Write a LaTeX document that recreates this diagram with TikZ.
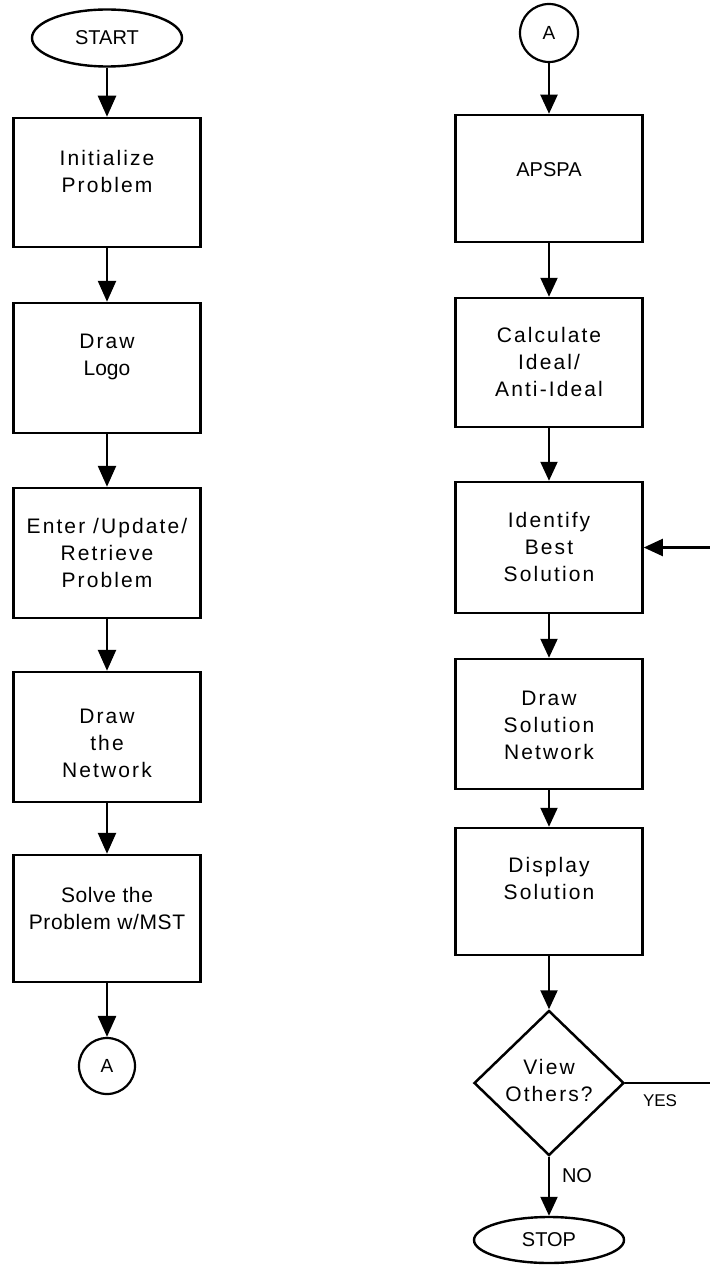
\documentclass[tikz,border=0pt]{standalone}
\usepackage{fontspec}
\setmainfont{Liberation Sans}
\newfontfamily\spacedfont[LetterSpace=10]{Liberation Sans}
\newfontfamily\tightfont[LetterSpace=3]{Liberation Sans}
\usetikzlibrary{arrows.meta,shapes.geometric}

\begin{document}
\begin{tikzpicture}[x=1pt,y=-1pt,
  box/.style={draw,line width=2.5pt,minimum width=187pt,minimum height=129pt,inner sep=0pt},
  terminal/.style={draw,ellipse,line width=2.4pt,minimum width=150pt,inner sep=0pt,
    font=\fontsize{20}{24}\selectfont},
  connector/.style={draw,circle,line width=2.2pt,minimum size=57pt,inner sep=0pt,
    font=\fontsize{19}{22}\selectfont},
  decision/.style={draw,diamond,line width=2.5pt,minimum width=150pt,minimum height=145pt,inner sep=0pt},
  txt/.style={align=center,inner sep=0pt,font=\spacedfont\fontsize{21}{27}\selectfont},
  lbl/.style={inner sep=0pt,font=\fontsize{20}{24}\selectfont},
  flow/.style={line width=2.6pt,-{Triangle[width=18pt,length=21pt]}},
  flowthin/.style={line width=2.1pt,-{Triangle[width=17pt,length=19pt]}}
]
\useasboundingbox (0,0) rectangle (709,1273);

% ---- left column ----
\node[terminal,minimum height=57pt] (start) at (107,38) {START};
\node[box] (b1) at (107,182.5) {};
\node[box,minimum height=130pt] (b2) at (107,368) {};
\node[box,minimum height=130pt] (b3) at (107,553) {};
\node[box,minimum height=130pt] (b4) at (107,737) {};
\node[box,minimum height=127pt] (b5) at (107,918.5) {};
\node[connector,minimum size=56pt] (ca) at (107,1066) {A};

\node[txt] (t1) at (107,171) {Initialize\\Problem};
\node[txt] (t2) at (107,357) {Draw\\{\fontspec{Liberation Sans}Logo}};
\node[txt] (t3) at (107,553) {Enter /Update/\\Retrieve\\Problem};
\node[txt] (t4) at (107,743) {Draw\\the\\Network};
\node[txt,font=\tightfont\fontsize{21}{27}\selectfont] (t5) at (107,908) {Solve the\\Problem w/MST};

\draw[flow] (start) -- (b1);
\draw[flow] (b1) -- (b2);
\draw[flow] (b2) -- (b3);
\draw[flow] (b3) -- (b4);
\draw[flow] (b4) -- (b5);
\draw[flow] (b5) -- (ca);

% ---- right column ----
\node[connector,minimum size=58pt] (cb) at (549,33) {A};
\node[box,minimum height=127pt] (r1) at (549,178.5) {};
\node[box] (r2) at (549,362.5) {};
\node[box,minimum height=131pt] (r3) at (549,547.5) {};
\node[box,minimum height=130pt] (r4) at (549,724) {};
\node[box,minimum height=127pt] (r5) at (549,891.5) {};
\node[decision] (dec) at (549,1083) {};
\node[terminal,minimum height=46pt] (stop) at (549,1240) {STOP};

\node[lbl] (tr1) at (549,170) {APSPA};
\node[txt] (tr2) at (549,362) {Calculate\\Ideal/\\Anti-Ideal};
\node[txt] (tr3) at (549,547) {Identify\\Best\\Solution};
\node[txt] (tr4) at (549,725) {Draw\\Solution\\Network};
\node[txt] (tr5) at (549,878) {Display\\Solution};
\node[txt] (td) at (549,1080) {View\\Others?};

\node[lbl,font=\fontsize{17}{20}\selectfont] (yes) at (660,1101) {YES};
\node[lbl] (no) at (577,1176) {NO};

\draw[flowthin] (cb) -- (r1);
\draw[flowthin] (r1) -- (r2);
\draw[flowthin] (r2) -- (r3);
\draw[flowthin] (r3) -- (r4);
\draw[flowthin] (r4) -- (r5);
\draw[flowthin] (r5) -- (dec);
\draw[flowthin] (dec) -- (stop);

% loop back for YES (vertical run lies just past the right edge)
\coordinate (loop) at (725,800);
\draw[flowthin] (dec.east) -| (loop) |- (r3.east);
\end{tikzpicture}
\end{document}
